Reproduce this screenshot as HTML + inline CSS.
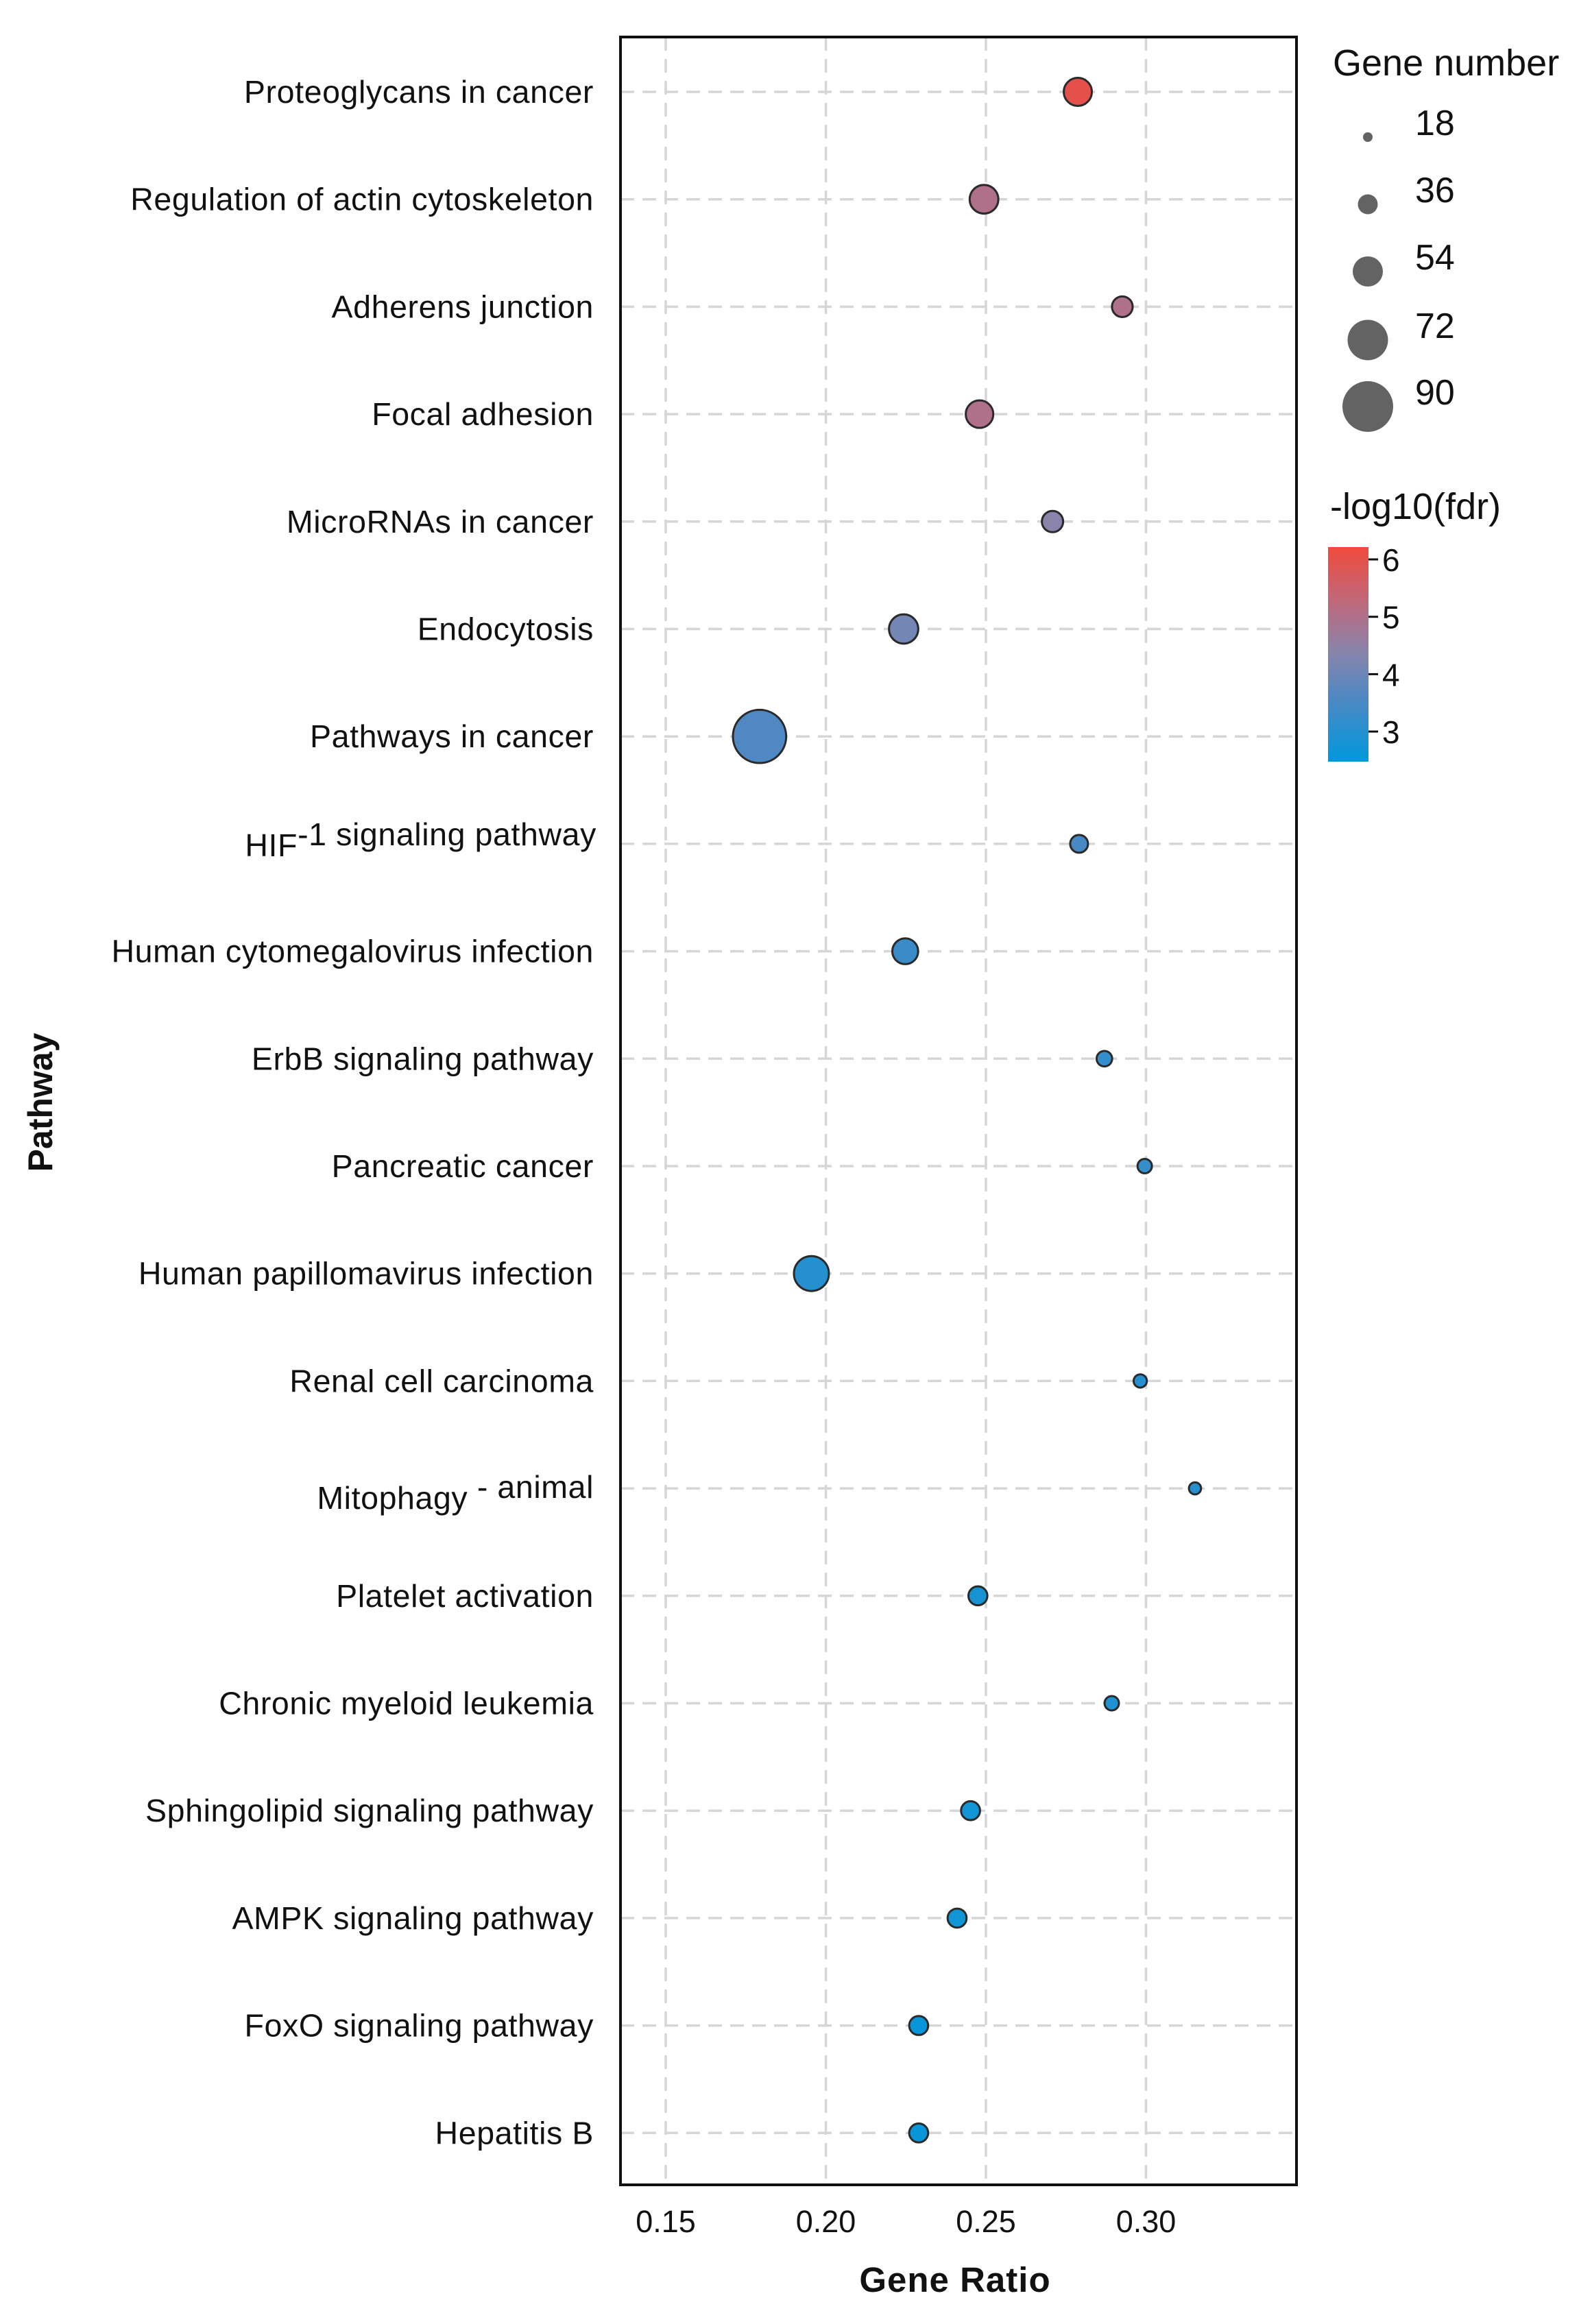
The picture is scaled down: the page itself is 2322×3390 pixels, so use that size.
<!DOCTYPE html>
<html><head><meta charset="utf-8"><style>
html,body{margin:0;padding:0;background:#fff;}
svg{display:block;font-family:"Liberation Sans",Arial,sans-serif;}
</style></head><body>
<svg id="chart" width="2322" height="3390" viewBox="0 0 2322 3390" xmlns="http://www.w3.org/2000/svg">
<defs>
<linearGradient id="cbar" x1="0" y1="1" x2="0" y2="0">
<stop offset="0" stop-color="#0098dc"/>
<stop offset="0.3" stop-color="#4f88c2"/>
<stop offset="0.5" stop-color="#8685ad"/>
<stop offset="0.75" stop-color="#c0687a"/>
<stop offset="1" stop-color="#f04a3c"/>
</linearGradient>
</defs>
<g id="grid"></g>
<g id="points"></g>
<rect x="905" y="54" width="986" height="3133" fill="none" stroke="#111" stroke-width="4"/>
<g id="ylabels" font-size="46.5" letter-spacing="0.6" fill="#111" text-anchor="end"></g>
<g id="xlabels" font-size="45" fill="#111" text-anchor="middle"></g>
<text x="1393" y="3343" font-size="51" font-weight="bold" letter-spacing="1" text-anchor="middle" fill="#111">Gene Ratio</text>
<text transform="translate(76,1608) rotate(-90)" font-size="50" font-weight="bold" text-anchor="middle" fill="#111">Pathway</text>
<g>
<text x="1944" y="110" font-size="54" fill="#111">Gene number</text>
<g id="sizeleg"></g>
</g>
<g>
<text x="1940" y="757" font-size="54" fill="#111">-log10(fdr)</text>
<rect x="1937" y="798" width="59" height="313" fill="url(#cbar)"/>
<g id="cticks"></g>
</g>
</svg>
<script>
const pathways = ["Proteoglycans in cancer","Regulation of actin cytoskeleton","Adherens junction","Focal adhesion","MicroRNAs in cancer","Endocytosis","Pathways in cancer","HIF-1 signaling pathway","Human cytomegalovirus infection","ErbB signaling pathway","Pancreatic cancer","Human papillomavirus infection","Renal cell carcinoma","Mitophagy - animal","Platelet activation","Chronic myeloid leukemia","Sphingolipid signaling pathway","AMPK signaling pathway","FoxO signaling pathway","Hepatitis B"];
const geneRatio = [0.2787,0.2494,0.2926,0.2480,0.2708,0.2243,0.1793,0.2791,0.2248,0.2870,0.2996,0.1955,0.2982,0.3153,0.2475,0.2893,0.2452,0.2410,0.2290,0.2290];
const geneNumber = [48,49,35,47,36,50,92,30,44,26,24,60,22,20,32,24,32,32,32,32];
const negLogFdr = [6.0,5.0,5.0,5.0,4.4,4.1,3.6,3.5,3.3,3.2,3.2,3.0,3.0,3.0,2.8,2.9,2.7,2.7,2.6,2.6];
const xTicks = [0.15,0.20,0.25,0.30];
const xTickLabels = ["0.15","0.20","0.25","0.30"];
const sizeBreaks = [18,36,54,72,90];
const colorTicks = [3,4,5,6];

const NS="http://www.w3.org/2000/svg";
const L=905,R=1891,T=54,B=3187;
function xr(v){return 971+(v-0.15)*4670;}
function yr(i){return 134+i*156.7;}
function rr(n){return 8+(n-18)*30/72;}
function cy(v){return 816+(6-v)*83.7;}
const stops=[[2.47,[0,152,220]],[3.6,[79,136,194]],[4.34,[134,133,173]],[5.27,[192,104,122]],[6.21,[240,74,60]]];
function col(v){
  if(v<=stops[0][0])return 'rgb('+stops[0][1]+')';
  for(let k=1;k<stops.length;k++){
    if(v<=stops[k][0]){const a=stops[k-1],b=stops[k];const t=(v-a[0])/(b[0]-a[0]);
      return 'rgb('+a[1].map((c,j)=>Math.round(c+(b[1][j]-c)*t)).join(',')+')';}
  }
  return 'rgb('+stops[stops.length-1][1]+')';
}
function mk(tag,attrs,parent){const e=document.createElementNS(NS,tag);for(const k in attrs)e.setAttribute(k,attrs[k]);parent.appendChild(e);return e;}

const grid=document.getElementById('grid');
xTicks.forEach((t,i)=>{
  const ln=mk('line',{x1:xr(t),x2:xr(t),y1:T,y2:B,stroke:'#d6d6d6','stroke-width':3.5,'stroke-dasharray':'20 12'},grid);
  
  
  const tx=mk('text',{x:xr(t),y:3256},document.getElementById('xlabels'));
  tx.textContent=xTickLabels[i];
  
  
});
pathways.forEach((p,i)=>{
  const ln=mk('line',{x1:L,x2:R,y1:yr(i),y2:yr(i),stroke:'#d6d6d6','stroke-width':3.5,'stroke-dasharray':'20 12'},grid);
  
  
});
const yl=document.getElementById('ylabels');
pathways.forEach((p,i)=>{
  const t=mk('text',{x:866,y:yr(i)+16},yl);
  
  
  if(p.startsWith('HIF-1')){
    const a=mk('tspan',{dy:2},t);a.textContent='HIF';
    const b=mk('tspan',{dy:-16},t);b.textContent='-1 signaling pathway';
    t.setAttribute('x',870);
  } else if(p.startsWith('Mitophagy')){
    const a=mk('tspan',{dy:14},t);a.textContent='Mitophagy';
    const b=mk('tspan',{dy:-16},t);b.textContent=' - animal';
  } else t.textContent=p;
});
const pts=document.getElementById('points');
pathways.forEach((p,i)=>{
  const c=mk('circle',{cx:xr(geneRatio[i]),cy:yr(i),r:rr(geneNumber[i]),fill:col(negLogFdr[i]),stroke:'#2a2a2a','stroke-width':3},pts);
  
  
});
const sl=document.getElementById('sizeleg');
const legY=[200,298,396,496,593];
sizeBreaks.forEach((n,i)=>{
  const c=mk('circle',{cx:1995,cy:legY[i],r:rr(n)-1,fill:'#636363'},sl);
  
  
  const t=mk('text',{x:2064,y:legY[i]-3,'font-size':52,fill:'#111'},sl);
  t.textContent=String(n);
  
  
});
const ct=document.getElementById('cticks');
colorTicks.forEach(v=>{
  const ln=mk('line',{x1:1996,x2:2010,y1:cy(v),y2:cy(v),stroke:'#111','stroke-width':3},ct);
  
  
  const t=mk('text',{x:2016,y:cy(v)+17,'font-size':46,fill:'#111'},ct);
  t.textContent=String(v);
  
  
});
</script>
</body></html>
